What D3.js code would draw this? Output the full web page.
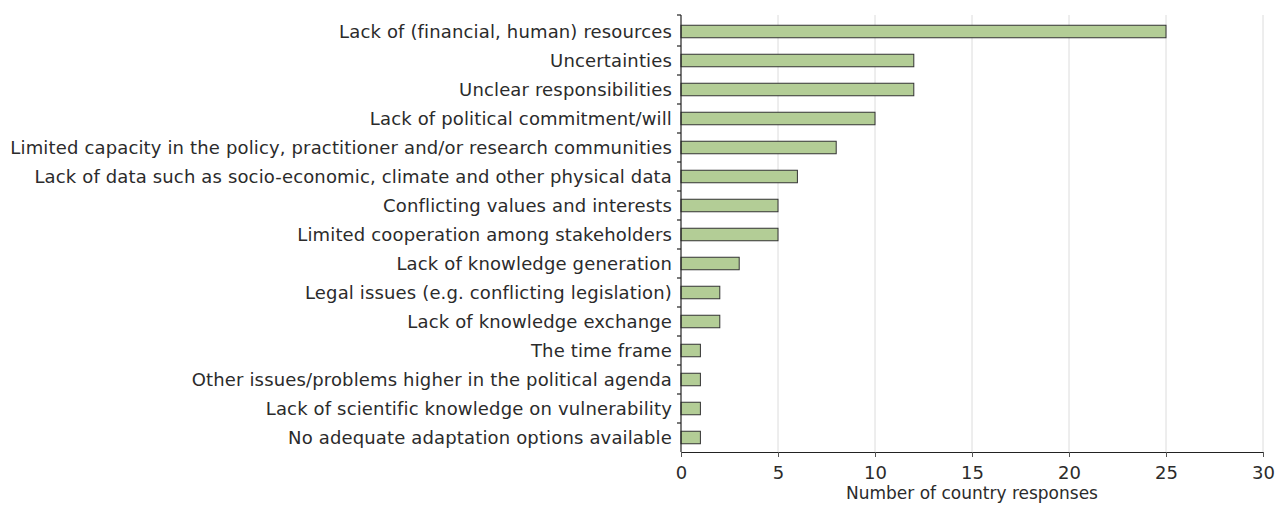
<!DOCTYPE html>
<html>
<head>
<meta charset="utf-8">
<script src="https://cdn.jsdelivr.net/npm/d3@7"></script>
<style>
  body { margin: 0; background: #fff; }
  text { font-family: "DejaVu Sans", Verdana, sans-serif; fill: #2b2b2b; }
</style>
</head>
<body>
<svg width="1276" height="505"></svg>
<script>
// categories, top to bottom
var categories = [
  'Lack of (financial, human) resources',
  'Uncertainties',
  'Unclear responsibilities',
  'Lack of political commitment/will',
  'Limited capacity in the policy, practitioner and/or research communities',
  'Lack of data such as socio-economic, climate and other physical data',
  'Conflicting values and interests',
  'Limited cooperation among stakeholders',
  'Lack of knowledge generation',
  'Legal issues (e.g. conflicting legislation)',
  'Lack of knowledge exchange',
  'The time frame',
  'Other issues/problems higher in the political agenda',
  'Lack of scientific knowledge on vulnerability',
  'No adequate adaptation options available'
];
var responses = [25, 12, 12, 10, 8, 6, 5, 5, 3, 2, 2, 1, 1, 1, 1];
var xTicks = [0, 5, 10, 15, 20, 25, 30];
var xTitle = 'Number of country responses';

var svg = d3.select('svg');
var fontSize = 18;

var x = d3.scaleLinear().domain([0, 30]).range([681, 1263]);
var y = d3.scaleBand().domain(categories).range([17, 452]).paddingInner(0).paddingOuter(0);
var barH = 12.5;
var axisTop = 15, axisBottom = 452;

// gridlines
svg.append('g').selectAll('line')
    .data(xTicks.filter(function(t){ return t > 0; }))
  .enter().append('line')
    .attr('x1', function(t){ return x(t); })
    .attr('x2', function(t){ return x(t); })
    .attr('y1', axisTop)
    .attr('y2', axisBottom)
    .attr('stroke', '#dcdcdc')
    .attr('stroke-width', 1);

// bars
svg.append('g').selectAll('rect')
    .data(responses)
  .enter().append('rect')
    .attr('x', x(0))
    .attr('y', function(v, i){ return y(categories[i]) + y.bandwidth()/2 - barH/2; })
    .attr('width', function(v){ return x(v) - x(0); })
    .attr('height', barH)
    .attr('fill', '#b3cd96')
    .attr('stroke', '#333')
    .attr('stroke-width', 1);

// category labels
svg.append('g').selectAll('text')
    .data(categories)
  .enter().append('text')
    .attr('x', x(0) - 9)
    .attr('y', function(c){ return y(c) + y.bandwidth()/2; })
    .attr('dy', '0.35em')
    .attr('text-anchor', 'end')
    .style('font-size', fontSize + 'px')
    .style('letter-spacing', '0.15px')
    .text(function(c){ return c; });

// y axis line + ticks at band boundaries
var yAxis = svg.append('g').attr('stroke', '#222').attr('stroke-width', 1.2);
yAxis.append('line')
    .attr('x1', x(0)).attr('x2', x(0))
    .attr('y1', axisTop).attr('y2', axisBottom);
var bounds = categories.map(function(c){ return y(c); });
bounds[0] = axisTop;
yAxis.selectAll('line.tick')
    .data(bounds)
  .enter().append('line')
    .attr('class', 'tick')
    .attr('x1', x(0) - 4).attr('x2', x(0))
    .attr('y1', function(b){ return b; })
    .attr('y2', function(b){ return b; });

// x axis
var xAxis = svg.append('g')
    .attr('transform', 'translate(0,' + axisBottom + ')')
    .call(d3.axisBottom(x).tickValues(xTicks).tickSizeInner(5).tickSizeOuter(0).tickPadding(9));
xAxis.select('.domain').attr('stroke', '#222').attr('stroke-width', 1.2);
xAxis.selectAll('.tick line').attr('stroke', '#555');
xAxis.selectAll('.tick text')
    .style('font-size', fontSize + 'px')
    .style('font-family', '"DejaVu Sans", Verdana, sans-serif')
    .attr('fill', '#2b2b2b');

svg.append('text')
    .attr('x', (x(0) + x(30)) / 2)
    .attr('y', 499)
    .attr('text-anchor', 'middle')
    .style('font-size', '17px')
    .text(xTitle);
</script>
</body>
</html>
